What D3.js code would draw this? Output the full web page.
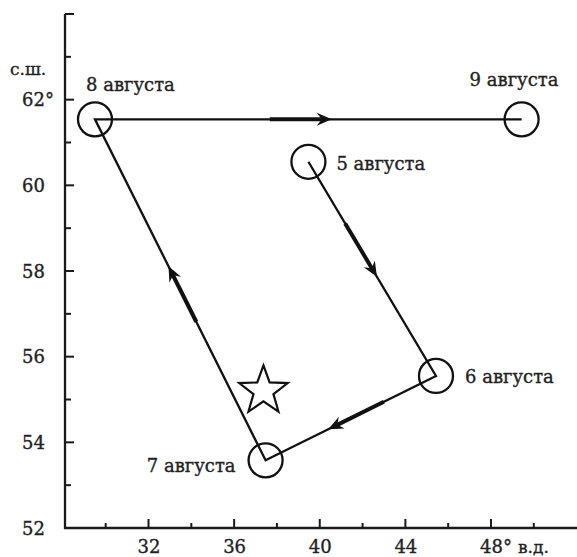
<!DOCTYPE html>
<html>
<head>
<meta charset="utf-8">
<script src="https://cdn.jsdelivr.net/npm/d3@7"></script>
<style>
  html, body { margin: 0; padding: 0; background: #fff; }
  svg { display: block; }
  text { font-family: "DejaVu Serif", serif; fill: #222; stroke: #222; stroke-width: 0.35; }
</style>
</head>
<body>
<svg id="chart" width="577" height="557"></svg>
<script>
// ---- data ----
const dates = ["5 августа", "6 августа", "7 августа", "8 августа", "9 августа"];
const lons = [39.47, 45.43, 37.47, 29.50, 49.43];
const lats = [60.55, 55.55, 53.58, 61.54, 61.54];
const arrowFractions = [0.537, 0.632, 0.569, 0.555]; // arrow tip position along each leg
const starLon = 37.37, starLat = 55.20;
const xTickValues = [32, 36, 40, 44, 48];
const xTickLabels = ["32", "36", "40", "44", "48°"];
const xMinorTicks = [30, 34, 38, 42, 46, 50];
const yTickValues = [52, 54, 56, 58, 60, 62, 64];
const yTickLabels = ["52", "54", "56", "58", "60", "62°", ""];
const yMinorTicks = [53, 55, 57, 59, 61, 63];
const xUnit = "в.д.";
const yUnit = "с.ш.";

// ---- layout ----
const svg = d3.select("#chart");
const x = d3.scaleLinear().domain([32, 48]).range([148.5, 491]);
const y = d3.scaleLinear().domain([52, 64]).range([528, 14]);
const axisX0 = 65, axisY0 = 528;

// label offsets relative to circle centre [dx, dy, anchor]
const labelOffsets = [[28, 8.5, "start"], [29, 7.5, "start"], [-30, 12, "end"], [-9, -28, "start"], [-52, -33, "start"]];

// axes
const gx = svg.append("g").attr("transform", `translate(0,${axisY0})`);
gx.append("line").attr("x1", axisX0 - 1).attr("x2", 577).attr("y1", 0).attr("y2", 0)
  .attr("stroke", "#1a1a1a").attr("stroke-width", 2.3);
gx.selectAll("line.maj").data(xTickValues).join("line").attr("class", "maj")
  .attr("x1", d => x(d)).attr("x2", d => x(d)).attr("y1", 0).attr("y2", -9)
  .attr("stroke", "#1a1a1a").attr("stroke-width", 2);
gx.selectAll("line.min").data(xMinorTicks).join("line").attr("class", "min")
  .attr("x1", d => x(d)).attr("x2", d => x(d)).attr("y1", 0).attr("y2", -5)
  .attr("stroke", "#1a1a1a").attr("stroke-width", 2);
gx.selectAll("text.tl").data(xTickValues).join("text").attr("class", "tl")
  .attr("x", d => x(d) - 11).attr("y", 25).attr("font-size", 18)
  .text((d, i) => xTickLabels[i]);
gx.append("text").attr("x", 518).attr("y", 25).attr("font-size", 17).text(xUnit);

const gy = svg.append("g").attr("transform", `translate(${axisX0},0)`);
gy.append("line").attr("x1", 0).attr("x2", 0).attr("y1", y(64)).attr("y2", axisY0 + 1)
  .attr("stroke", "#1a1a1a").attr("stroke-width", 2.3);
gy.selectAll("line.maj").data(yTickValues).join("line").attr("class", "maj")
  .attr("x1", 0).attr("x2", 9).attr("y1", d => y(d)).attr("y2", d => y(d))
  .attr("stroke", "#1a1a1a").attr("stroke-width", 2);
gy.selectAll("line.min").data(yMinorTicks).join("line").attr("class", "min")
  .attr("x1", 0).attr("x2", 6).attr("y1", d => y(d)).attr("y2", d => y(d))
  .attr("stroke", "#1a1a1a").attr("stroke-width", 2);
gy.selectAll("text.tl").data(yTickValues).join("text").attr("class", "tl")
  .attr("x", -43).attr("y", d => y(d) + 6.5).attr("font-size", 18)
  .text((d, i) => yTickLabels[i]);
gy.append("text").attr("x", -55).attr("y", 75).attr("font-size", 17).text(yUnit);

// track
const pts = lons.map((lo, i) => [x(lo), y(lats[i])]);
svg.append("path").attr("d", d3.line()(pts)).attr("fill", "none")
  .attr("stroke", "#111").attr("stroke-width", 2.3).attr("stroke-linejoin", "miter");

// arrows
const headLen = 15, headHalf = 6.5, notch = 10, thickLen = 62;
arrowFractions.forEach((f, i) => {
  const [x0, y0] = pts[i], [x1, y1] = pts[i + 1];
  const dx = x1 - x0, dy = y1 - y0, L = Math.hypot(dx, dy);
  const ux = dx / L, uy = dy / L, px = -uy, py = ux;
  const tx = x0 + dx * f, ty = y0 + dy * f;
  svg.append("line").attr("x1", tx - ux * thickLen).attr("y1", ty - uy * thickLen)
    .attr("x2", tx - ux * notch).attr("y2", ty - uy * notch)
    .attr("stroke", "#111").attr("stroke-width", 4);
  const bx = tx - ux * headLen, by = ty - uy * headLen;
  const poly = [[tx, ty], [bx + px * headHalf, by + py * headHalf],
    [tx - ux * notch, ty - uy * notch], [bx - px * headHalf, by - py * headHalf]];
  svg.append("path").attr("d", "M" + poly.map(p => p.join(",")).join("L") + "Z").attr("fill", "#111");
});

// circles
svg.selectAll("circle.pt").data(pts).join("circle").attr("class", "pt")
  .attr("cx", d => d[0]).attr("cy", d => d[1]).attr("r", 17)
  .attr("fill", "none").attr("stroke", "#111").attr("stroke-width", 2.3);

// labels
svg.selectAll("text.lbl").data(dates).join("text").attr("class", "lbl")
  .attr("x", (d, i) => pts[i][0] + labelOffsets[i][0])
  .attr("y", (d, i) => pts[i][1] + labelOffsets[i][1])
  .attr("text-anchor", (d, i) => labelOffsets[i][2])
  .attr("font-size", 18).text(d => d);

// star
const R = 25.5, r = 10.5, sx = x(starLon), sy = y(starLat);
const starPts = d3.range(10).map(k => {
  const a = -Math.PI / 2 + k * Math.PI / 5, rr = k % 2 ? r : R;
  return [sx + rr * Math.cos(a), sy + rr * Math.sin(a)];
});
svg.append("path").attr("d", "M" + starPts.map(p => p.join(",")).join("L") + "Z")
  .attr("fill", "none").attr("stroke", "#111").attr("stroke-width", 2.2).attr("stroke-linejoin", "miter");
</script>
</body>
</html>
